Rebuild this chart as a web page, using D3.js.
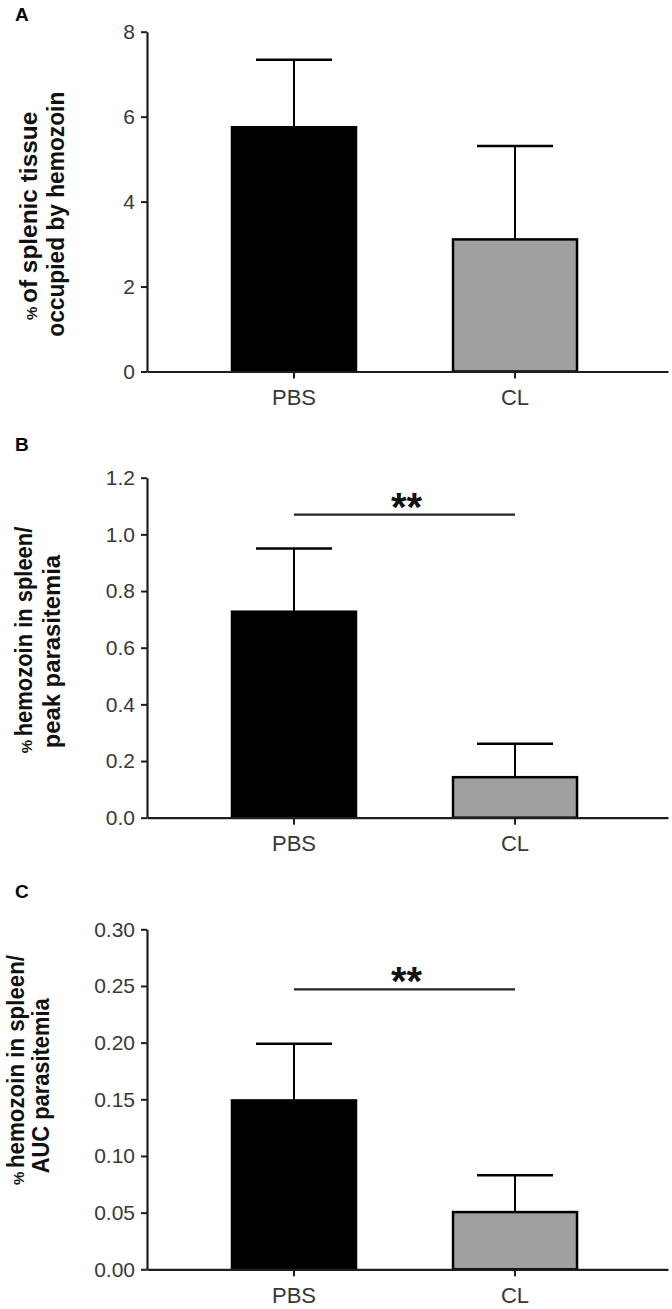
<!DOCTYPE html>
<html>
<head>
<meta charset="utf-8">
<script src="https://cdnjs.cloudflare.com/ajax/libs/d3/7.8.5/d3.min.js"></script>
<style>
  html, body { margin: 0; padding: 0; background: #fff; }
  svg { display: block; }
  text { font-family: "Liberation Sans", Arial, Helvetica, sans-serif; }
</style>
</head>
<body>
<svg id="chart" width="672" height="1309"></svg>
<script>
// ---------------- data ----------------
const categories = ["PBS", "CL"];
const panelLetters = ["A", "B", "C"];

// Panel A: % of splenic tissue occupied by hemozoin
const tissueMean = [5.75, 3.11];
const tissueSem = [1.59, 2.20];
const tissueTicks = [0, 2, 4, 6, 8];

// Panel B: % hemozoin in spleen / peak parasitemia
const peakMean = [0.727, 0.143];
const peakSem = [0.223, 0.118];
const peakTicks = [0, 0.2, 0.4, 0.6, 0.8, 1.0, 1.2];
const peakSig = 1.07;

// Panel C: % hemozoin in spleen / AUC parasitemia
const aucMean = [0.149, 0.0505];
const aucSem = [0.050, 0.0325];
const aucTicks = [0, 0.05, 0.10, 0.15, 0.20, 0.25, 0.30];
const aucSig = 0.247;

const sigLabel = "**";
const barColors = ["#000000", "#a0a0a0"];

const titleA = [["%", "of splenic tissue"], [null, "occupied by hemozoin"]];
const titleB = [["%", "hemozoin in spleen/"], [null, "peak parasitemia"]];
const titleC = [["%", "hemozoin in spleen/"], [null, "AUC parasitemia"]];

// ---------------- layout ----------------
const svg = d3.select("#chart");
const axisColor = "#1e1e1e";
const textColor = "#383838";

const x = d3.scaleBand()
  .domain(categories)
  .range([147, 668])
  .paddingInner(0.439)
  .paddingOuter(0.398)
  .align(0.483);

const panels = [
  { letter: panelLetters[0], mean: tissueMean, sem: tissueSem, ticks: tissueTicks,
    fmt: d3.format("d"), yTop: 31.7, yBottom: 371.5, letterY: 20.7, sig: null,
    title: titleA,
    titlePos: [ { bx: 37, top: 111.7, bottom: 320 }, { bx: 63.5, top: 91.7, bottom: 336.7 } ] },
  { letter: panelLetters[1], mean: peakMean, sem: peakSem, ticks: peakTicks,
    fmt: d3.format(".1f"), yTop: 477.7, yBottom: 817.7, letterY: 450.7, sig: peakSig,
    title: titleB,
    titlePos: [ { bx: 32, top: 526.7, bottom: 753.3 }, { bx: 60, top: 555, bottom: 748.3 } ] },
  { letter: panelLetters[2], mean: aucMean, sem: aucSem, ticks: aucTicks,
    fmt: d3.format(".2f"), yTop: 929.3, yBottom: 1269.3, letterY: 898.3, sig: aucSig,
    title: titleC,
    titlePos: [ { bx: 23.5, top: 955, bottom: 1185 }, { bx: 48.5, top: 998.3, bottom: 1173.3 } ] }
];

panels.forEach(p => {
  const g = svg.append("g");
  const y = d3.scaleLinear()
    .domain([0, d3.max(p.ticks)])
    .range([p.yBottom, p.yTop]);

  // panel letter
  g.append("text")
    .attr("x", 15).attr("y", p.letterY)
    .attr("font-size", 19).attr("font-weight", "bold")
    .attr("fill", "#000")
    .text(p.letter);

  // y axis title (rotated, two lines)
  p.title.forEach((line, i) => {
    const pos = p.titlePos[i];
    let start = pos.bottom;
    if (line[0]) {
      g.append("text")
        .attr("transform", `translate(${pos.bx},${pos.bottom}) rotate(-90)`)
        .attr("font-size", 15).attr("font-weight", "bold")
        .attr("fill", "#111")
        .text(line[0]);
      start = pos.bottom - 17;
    }
    g.append("text")
      .attr("transform", `translate(${pos.bx},${start}) rotate(-90)`)
      .attr("font-size", 23).attr("font-weight", "bold")
      .attr("fill", "#111")
      .attr("textLength", start - pos.top)
      .attr("lengthAdjust", "spacingAndGlyphs")
      .text(line[1]);
  });

  // bars
  const data = categories.map((c, i) => ({ c, m: p.mean[i], s: p.sem[i], col: barColors[i] }));
  g.selectAll("rect.bar").data(data).join("rect")
    .attr("class", "bar")
    .attr("x", d => x(d.c))
    .attr("y", d => y(d.m))
    .attr("width", x.bandwidth())
    .attr("height", d => y(0) - y(d.m))
    .attr("fill", d => d.col)
    .attr("stroke", "#000")
    .attr("stroke-width", 2.5);

  // error bars (upper only)
  const cx = d => x(d.c) + x.bandwidth() / 2;
  g.selectAll("line.err").data(data).join("line")
    .attr("x1", cx).attr("x2", cx)
    .attr("y1", d => y(d.m)).attr("y2", d => y(d.m + d.s))
    .attr("stroke", "#000").attr("stroke-width", 2);
  g.selectAll("line.cap").data(data).join("line")
    .attr("x1", d => cx(d) - 38).attr("x2", d => cx(d) + 38)
    .attr("y1", d => y(d.m + d.s)).attr("y2", d => y(d.m + d.s))
    .attr("stroke", "#000").attr("stroke-width", 2.5);

  // y axis
  const ya = g.append("g")
    .attr("transform", "translate(147,0)")
    .call(d3.axisLeft(y).tickValues(p.ticks).tickFormat(p.fmt)
      .tickSize(6).tickPadding(6).tickSizeOuter(0));
  ya.select(".domain").attr("stroke", axisColor).attr("stroke-width", 2.2);
  ya.selectAll(".tick line").attr("stroke", axisColor).attr("stroke-width", 2);
  ya.selectAll(".tick text").attr("font-size", 21).attr("fill", textColor)
    .attr("font-family", "'Liberation Sans', Arial, sans-serif");

  // x axis
  const xa = g.append("g")
    .attr("transform", `translate(0,${p.yBottom})`)
    .call(d3.axisBottom(x).tickSize(7).tickPadding(11).tickSizeOuter(0));
  xa.select(".domain").attr("stroke", axisColor).attr("stroke-width", 2.2);
  xa.selectAll(".tick line").attr("stroke", axisColor).attr("stroke-width", 2);
  xa.selectAll(".tick text").attr("font-size", 22).attr("fill", textColor)
    .attr("font-family", "'Liberation Sans', Arial, sans-serif");

  // significance bracket
  if (p.sig !== null) {
    const x1 = x(categories[0]) + x.bandwidth() / 2;
    const x2 = x(categories[1]) + x.bandwidth() / 2;
    g.append("line")
      .attr("x1", x1).attr("x2", x2)
      .attr("y1", y(p.sig)).attr("y2", y(p.sig))
      .attr("stroke", "#222").attr("stroke-width", 2.2);
    g.append("text")
      .attr("x", (x1 + x2) / 2 + 2).attr("y", y(p.sig) + 6)
      .attr("text-anchor", "middle")
      .attr("font-size", 40).attr("font-weight", "bold")
      .attr("fill", "#111")
      .text(sigLabel);
  }
});
</script>
</body>
</html>
